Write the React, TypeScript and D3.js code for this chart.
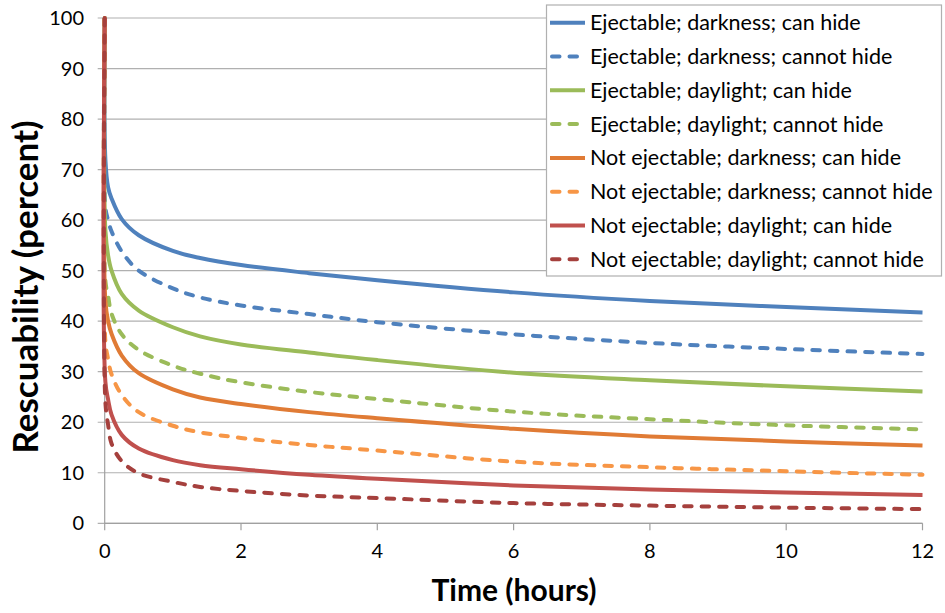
import React from "react";
import * as d3 from "d3";

const times = [0, 0.01, 0.05, 0.1, 0.25, 0.5, 1, 1.4, 2, 3, 4, 6, 8, 10, 12];

const ejDarkCan = [100, 72, 66.5, 64.3, 60.2, 57.0, 53.9, 52.5, 51.1, 49.5, 48.1, 45.7, 44.0, 42.8, 41.7];
const ejDarkCannot = [100, 62.5, 60, 57.8, 53.8, 50.0, 46.5, 44.7, 43.1, 41.4, 39.8, 37.4, 35.7, 34.5, 33.5];
const ejDayCan = [100, 58, 53, 50.0, 45.4, 42.1, 38.8, 37.0, 35.4, 33.8, 32.3, 29.8, 28.3, 27.1, 26.1];
const ejDayCannot = [100, 48, 45, 41.5, 37.4, 34.3, 31.2, 29.6, 27.9, 26.0, 24.6, 22.1, 20.6, 19.4, 18.6];
const notDarkCan = [100, 44, 40, 37.5, 33.2, 29.7, 26.5, 24.9, 23.6, 22.0, 20.8, 18.7, 17.2, 16.2, 15.4];
const notDarkCannot = [100, 36, 32.5, 29.5, 25.4, 22.0, 19.3, 18.0, 16.9, 15.5, 14.4, 12.2, 11.1, 10.3, 9.6];
const notDayCan = [100, 28, 24.5, 21.5, 17.5, 14.8, 12.5, 11.5, 10.7, 9.6, 8.8, 7.5, 6.7, 6.1, 5.6];
const notDayCannot = [100, 24, 19.5, 15.8, 12.3, 9.9, 8.2, 7.2, 6.4, 5.5, 5.0, 4.0, 3.5, 3.1, 2.8];

const seriesNames = [
  "Ejectable; darkness; can hide",
  "Ejectable; darkness; cannot hide",
  "Ejectable; daylight; can hide",
  "Ejectable; daylight; cannot hide",
  "Not ejectable; darkness; can hide",
  "Not ejectable; darkness; cannot hide",
  "Not ejectable; daylight; can hide",
  "Not ejectable; daylight; cannot hide",
];
const seriesValues = [ejDarkCan, ejDarkCannot, ejDayCan, ejDayCannot, notDarkCan, notDarkCannot, notDayCan, notDayCannot];
const seriesColors = ["#4f81bd", "#4f81bd", "#9bbb59", "#9bbb59", "#e07b35", "#f79646", "#c0504d", "#a5403d"];
const seriesDashed = [false, true, false, true, false, true, false, true];

const xTicks = [0, 2, 4, 6, 8, 10, 12];
const yTicks = [0, 10, 20, 30, 40, 50, 60, 70, 80, 90, 100];

const W = 945;
const H = 613;
const FONT = "Lato, 'Open Sans', sans-serif";

export default function App() {
  const x = d3.scaleLinear().domain([0, 12]).range([104.7, 922.5]);
  const y = d3.scaleLinear().domain([0, 100]).range([523.3, 18]);
  const line = d3
    .line<[number, number]>()
    .x((d) => x(d[0]))
    .y((d) => y(d[1]))
    .curve(d3.curveCatmullRom.alpha(0.5));

  const legendX = 546.5;
  const legendY = 5;
  const legendW = 395;
  const legendH = 271;
  const rowH = 33.8;

  return (
    <svg width={W} height={H} style={{ position: "absolute", left: 0, top: 0, background: "#fff" }} fontFamily={FONT}>
      <rect x={0} y={0} width={W} height={H} fill="#fff" />
      {yTicks.map((t) => (
        <line key={"g" + t} x1={x(0) - 7} x2={x(12)} y1={y(t)} y2={y(t)} stroke="#b0b0b0" strokeWidth={1.2} />
      ))}
      <line x1={x(0)} x2={x(0)} y1={y(0)} y2={y(100)} stroke="#a0a0a0" strokeWidth={1.2} />
      <line x1={x(0)} x2={x(12)} y1={y(0)} y2={y(0)} stroke="#a0a0a0" strokeWidth={1.2} />
      {xTicks.map((t) => (
        <line key={"xt" + t} x1={x(t)} x2={x(t)} y1={y(0)} y2={y(0) + 7} stroke="#a0a0a0" strokeWidth={1.2} />
      ))}
      {yTicks.map((t) => (
        <text key={"yl" + t} x={84} y={y(t)} dy="0.35em" textAnchor="end" fontSize={20} fill="#000">
          {t}
        </text>
      ))}
      {xTicks.map((t) => (
        <text key={"xl" + t} x={x(t)} y={551} dy="0.35em" textAnchor="middle" fontSize={20} fill="#000">
          {t}
        </text>
      ))}
      <text x={514} y={590} dy="0.35em" textAnchor="middle" fontSize={30} fontWeight="bold" fill="#000">
        Time (hours)
      </text>
      <text
        transform={`translate(26,${287}) rotate(-90)`}
        textAnchor="middle"
        dy="0.35em"
        fontSize={35}
        fontWeight="bold"
        fill="#000"
      >
        Rescuability (percent)
      </text>
      {seriesValues.map((vals, i) => (
        <path
          key={"s" + i}
          d={line(times.map((t, j) => [t, vals[j]] as [number, number])) || ""}
          fill="none"
          stroke={seriesColors[i]}
          strokeWidth={4}
          strokeDasharray={seriesDashed[i] ? "7.5,10" : undefined}
          strokeLinecap={seriesDashed[i] ? "round" : "butt"}
        />
      ))}
      <rect x={legendX} y={legendY} width={legendW} height={legendH} fill="#fff" stroke="#b0b0b0" strokeWidth={1.2} />
      {seriesNames.map((name, i) => {
        const cy = legendY + 17.7 + i * rowH;
        return (
          <g key={"l" + i}>
            <line
              x1={seriesDashed[i] ? 552 : 550}
              x2={seriesDashed[i] ? 583 : 585}
              y1={cy}
              y2={cy}
              stroke={seriesColors[i]}
              strokeWidth={4}
              strokeDasharray={seriesDashed[i] ? "7.5,10" : undefined}
              strokeLinecap={seriesDashed[i] ? "round" : "butt"}
            />
            <text x={590} y={cy} dy="0.35em" fontSize={21.5} fill="#000">
              {name}
            </text>
          </g>
        );
      })}
    </svg>
  );
}
